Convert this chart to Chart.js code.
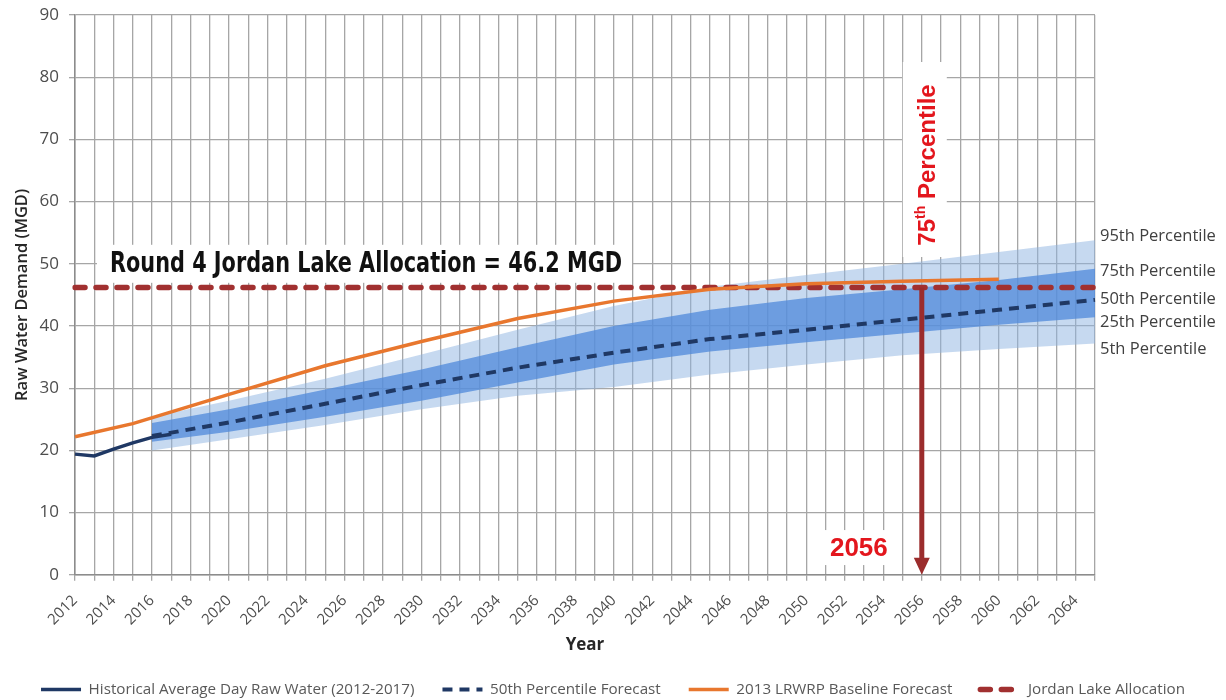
<!DOCTYPE html>
<html>
<head>
<meta charset="utf-8">
<title>Raw Water Demand Forecast</title>
<script src="https://cdn.jsdelivr.net/npm/chart.js@4.4.1/dist/chart.umd.min.js"></script>
<style>
  html, body { margin: 0; padding: 0; background: #ffffff; }
  #wrap { width: 1226px; height: 700px; position: relative; }
  canvas { display: block; }
</style>
</head>
<body>
<div id="wrap"><canvas id="chart" width="1226" height="700"></canvas></div>
<script>
// ---- Category axis (one tick per year) ----
const years = [
  '2012','2013','2014','2015','2016','2017','2018','2019','2020','2021',
  '2022','2023','2024','2025','2026','2027','2028','2029','2030','2031',
  '2032','2033','2034','2035','2036','2037','2038','2039','2040','2041',
  '2042','2043','2044','2045','2046','2047','2048','2049','2050','2051',
  '2052','2053','2054','2055','2056','2057','2058','2059','2060','2061',
  '2062','2063','2064','2065'
];

// ---- Historical average day raw water demand (MGD) ----
const historicalYears = ['2012','2013','2014','2015','2016','2017'];
const historicalDemand = [19.4, 19.1, 20.2, 21.2, 22.1, 22.6];

// ---- 2013 LRWRP baseline forecast (MGD) ----
const baselineYears = ['2012','2015','2020','2025','2030','2035','2040','2045','2050','2055','2060'];
const baselineDemand = [22.2, 24.3, 29.0, 33.6, 37.5, 41.2, 44.0, 45.9, 46.8, 47.2, 47.5];

// ---- Forecast percentiles (MGD) ----
const forecastYears = ['2016','2020','2025','2030','2035','2040','2045','2050','2055','2060','2065'];
const p95 = [25.4, 28.0, 31.5, 35.4, 39.4, 43.2, 46.3, 48.2, 50.0, 51.9, 53.8];
const p75 = [24.4, 26.6, 29.8, 33.0, 36.6, 40.0, 42.6, 44.5, 45.9, 47.4, 49.2];
const p50 = [22.3, 24.5, 27.5, 30.5, 33.3, 35.7, 37.9, 39.4, 41.0, 42.6, 44.2];
const p25 = [21.4, 23.0, 25.4, 28.0, 30.9, 33.8, 35.9, 37.4, 38.8, 40.2, 41.4];
const p5  = [20.0, 21.8, 24.1, 26.6, 28.8, 30.2, 32.2, 33.8, 35.3, 36.3, 37.2];

// ---- Jordan Lake allocation ----
const allocationYears = ['2012', '2065'];
const allocationMGD = 46.2;
const crossingYear = '2056';

// ---- Text ----
const seriesNames = [
  'Historical Average Day Raw Water (2012-2017)',
  '50th Percentile Forecast',
  '2013 LRWRP Baseline Forecast',
  'Jordan Lake Allocation'
];
const bandNames = ['95th Percentile', '75th Percentile', '50th Percentile', '25th Percentile', '5th Percentile'];

const pts = (xs, ys) => xs.map((x, i) => ({ x, y: ys[i] }));

const FONT = "'Open Sans', 'Noto Sans', 'DejaVu Sans', sans-serif";
const NARROW = "'Liberation Sans Narrow', 'Arial Narrow', 'DejaVu Sans Condensed', sans-serif";
const BOLD = "'Liberation Sans', Arial, sans-serif";
const RED_TEXT = '#e3161d';
const ARROW = '#9b2c2c';

// Annotations: caption boxes, the crossing-year arrow and percentile labels
const annotations = {
  id: 'annotations',
  beforeDatasetsDraw(chart) {
    const { ctx, chartArea: ca, scales: { x, y } } = chart;
    const ax = x.getPixelForValue(years.indexOf(crossingYear));
    ctx.save();

    // allocation caption
    const capY = y.getPixelForValue(50);
    const capLeft = ca.left + 35;
    ctx.fillStyle = '#ffffff';
    ctx.fillRect(ca.left + 22, capY - 19, 535, 38);
    ctx.font = 'bold 28px ' + NARROW;
    const cap = 'Round 4 Jordan Lake Allocation = ' + allocationMGD.toFixed(1) + ' MGD';
    const w = ctx.measureText(cap).width;
    const sx = 512 / w;
    ctx.save();
    ctx.translate(capLeft, capY);
    ctx.scale(sx, 1);
    ctx.fillStyle = '#111111';
    ctx.textAlign = 'left';
    ctx.textBaseline = 'middle';
    ctx.fillText(cap, 0, 1);
    ctx.restore();

    // vertical "75th Percentile" label
    ctx.fillStyle = '#ffffff';
    ctx.fillRect(ax - 19, ca.top + 47, 44, 195);
    ctx.save();
    ctx.translate(ax + 4, ca.top + 150);
    ctx.rotate(-Math.PI / 2);
    ctx.fillStyle = RED_TEXT;
    ctx.textBaseline = 'alphabetic';
    ctx.textAlign = 'left';
    const big = 'bold 24px ' + BOLD, small = 'bold 14px ' + BOLD;
    ctx.font = big; const w1 = ctx.measureText('75').width;
    ctx.font = small; const w2 = ctx.measureText('th').width;
    ctx.font = big; const w3 = ctx.measureText(' Percentile').width;
    let tx = -(w1 + w2 + w3) / 2;
    ctx.font = big; ctx.fillText('75', tx, 9); tx += w1;
    ctx.font = small; ctx.fillText('th', tx, -1); tx += w2;
    ctx.font = big; ctx.fillText(' Percentile', tx, 9);
    ctx.restore();

    // crossing year label
    const ly = y.getPixelForValue(4.3);
    ctx.fillStyle = '#ffffff';
    ctx.fillRect(ax - 107, ly - 18, 85, 35);
    ctx.font = 'bold 26px ' + BOLD;
    ctx.fillStyle = RED_TEXT;
    ctx.textAlign = 'right';
    ctx.textBaseline = 'middle';
    ctx.fillText(crossingYear, ax - 34, ly + 1);
    ctx.restore();
  },
  afterDatasetsDraw(chart) {
    const { ctx, scales: { x, y } } = chart;
    const ax = x.getPixelForValue(years.indexOf(crossingYear));
    const top = y.getPixelForValue(allocationMGD);
    const bottom = y.getPixelForValue(0);
    ctx.save();
    ctx.strokeStyle = ARROW;
    ctx.lineWidth = 5;
    ctx.beginPath();
    ctx.moveTo(ax, top);
    ctx.lineTo(ax, bottom - 14);
    ctx.stroke();
    ctx.fillStyle = ARROW;
    ctx.beginPath();
    ctx.moveTo(ax - 8, bottom - 17);
    ctx.lineTo(ax + 8, bottom - 17);
    ctx.lineTo(ax, bottom);
    ctx.closePath();
    ctx.fill();
    ctx.restore();
  },
  afterDraw(chart) {
    const { ctx, chartArea: ca, scales: { y } } = chart;
    const ends = [p95, p75, p50, p25, p5].map(a => a[a.length - 1]);
    const nudge = [-4, 3, -1, 5, 6];
    ctx.save();
    ctx.font = '16.5px ' + FONT;
    ctx.fillStyle = '#404040';
    ctx.textAlign = 'left';
    ctx.textBaseline = 'middle';
    bandNames.forEach((t, i) => {
      ctx.fillText(t, ca.right + 5, y.getPixelForValue(ends[i]) + nudge[i]);
    });
    ctx.restore();
  }
};

const lineBase = { pointRadius: 0, pointHoverRadius: 0, tension: 0, fill: false };

// legend samples follow each dataset's own stroke
const legendLabels = chart =>
  Chart.defaults.plugins.legend.labels.generateLabels(chart).map(item => {
    const ds = chart.data.datasets[item.datasetIndex];
    return { ...item, strokeStyle: ds.borderColor, lineWidth: ds.borderWidth,
             lineDash: ds.borderDash || [], lineCap: ds.borderCapStyle || 'butt' };
  });

new Chart(document.getElementById('chart'), {
  type: 'line',
  data: {
    labels: years,
    datasets: [
      { ...lineBase, label: seriesNames[0], data: pts(historicalYears, historicalDemand),
        borderColor: '#1f3864', borderWidth: 3.5, order: 0 },
      { ...lineBase, label: seriesNames[1], data: pts(forecastYears, p50),
        borderColor: '#1f3864', borderWidth: 4, borderDash: [10, 7], order: 1 },
      { ...lineBase, label: seriesNames[2], data: pts(baselineYears, baselineDemand),
        borderColor: '#e8772e', borderWidth: 3.5, order: 2 },
      { ...lineBase, label: seriesNames[3], data: allocationYears.map(x => ({ x, y: allocationMGD })),
        borderColor: '#a13030', borderWidth: 5.5, borderDash: [10, 11], borderCapStyle: 'round', order: 3 },
      // percentile bands
      { ...lineBase, label: 'p95', data: pts(forecastYears, p95), borderWidth: 0, borderColor: 'rgba(0,0,0,0)',
        backgroundColor: 'rgba(141,180,226,0.5)', fill: 7, order: 10 },
      { ...lineBase, label: 'p75', data: pts(forecastYears, p75), borderWidth: 0, borderColor: 'rgba(0,0,0,0)',
        backgroundColor: 'rgba(79,137,219,0.75)', fill: 6, order: 9 },
      { ...lineBase, label: 'p25', data: pts(forecastYears, p25), borderWidth: 0, borderColor: 'rgba(0,0,0,0)', order: 8 },
      { ...lineBase, label: 'p5', data: pts(forecastYears, p5), borderWidth: 0, borderColor: 'rgba(0,0,0,0)', order: 7 }
    ]
  },
  options: {
    responsive: false,
    animation: false,
    devicePixelRatio: 1,
    layout: { padding: { left: 0, right: 0, top: 15, bottom: -7 } },
    plugins: {
      tooltip: { enabled: false },
      legend: {
        position: 'bottom',
        labels: {
          generateLabels: legendLabels,
          filter: item => item.datasetIndex < 4,
          usePointStyle: true,
          pointStyle: 'line',
          pointStyleWidth: 40,
          padding: 28,
          color: '#595959',
          font: { family: FONT, size: 15.2 }
        }
      }
    },
    scales: {
      x: {
        type: 'category',
        offset: false,
        afterFit: s => { s.height = 79; s.paddingLeft = 0; s.paddingRight = 0; },
        grid: { color: '#a6a6a6', lineWidth: 1.3, tickLength: 6, drawTicks: true },
        border: { color: '#8c8c8c', width: 1.5 },
        ticks: {
          autoSkip: false, maxRotation: 45, minRotation: 45, padding: 11,
          color: '#4d4d4d', font: { family: FONT, size: 15 },
          callback: (v, i) => (i % 2 === 0 ? years[i] : '')
        },
        title: { display: true, text: 'Year', color: '#262626',
                 font: { family: FONT, size: 17, weight: 'bold' }, padding: { top: 0, bottom: -2 } }
      },
      y: {
        min: 0, max: 90,
        afterFit: s => { s.width = 75; s.paddingTop = 0; s.paddingBottom = 0; },
        grid: { color: '#a6a6a6', lineWidth: 1.3, tickLength: 6 },
        border: { color: '#8c8c8c', width: 1.5 },
        ticks: { stepSize: 10, padding: 10, color: '#4d4d4d', font: { family: FONT, size: 17 } },
        title: { display: true, text: 'Raw Water Demand (MGD)', color: '#262626',
                 font: { family: FONT, size: 16.5, weight: '600' }, padding: { top: 12, bottom: 0 } }
      },
      // reserved strip to the right of the plot for the percentile labels
      side: {
        type: 'linear', position: 'right', display: true,
        afterFit: s => { s.width = 131; s.paddingTop = 0; s.paddingBottom = 0; },
        grid: { display: false, drawTicks: false }, border: { display: false },
        ticks: { display: false }
      }
    }
  },
  plugins: [annotations]
});
</script>
</body>
</html>
